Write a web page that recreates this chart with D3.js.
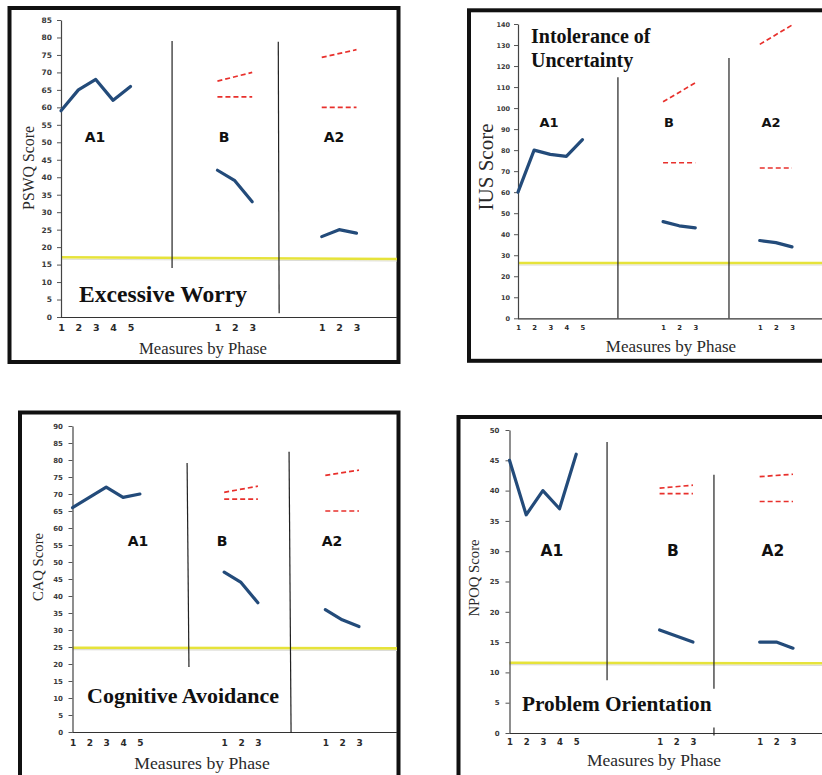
<!DOCTYPE html>
<html>
<head>
<meta charset="utf-8">
<script src="https://cdn.jsdelivr.net/npm/d3@7"></script>
<style>
  body { margin: 0; background: #fff; }
  svg { display: block; }
</style>
</head>
<body>
<svg id="chart" width="822" height="775"></svg>
<script>
// ---- shared measure axis: slots for A1 (5 measures), B (3) and A2 (3) ----
const measureLabels = ["1", "2", "3", "4", "5", "1", "2", "3", "1", "2", "3"];
const measureSlots  = [0, 1, 2, 3, 4, 9, 10, 11, 15, 16, 17];
const a1Slots = [0, 1, 2, 3, 4];
const bSlots  = [9, 10, 11];
const a2Slots = [15, 16, 17];
const phaseNames = ["A1", "B", "A2"];

// ---- PSWQ (Excessive Worry) ----
const pswqTicks   = [0, 5, 10, 15, 20, 25, 30, 35, 40, 45, 50, 55, 60, 65, 70, 75, 80, 85];
const pswqA1      = [59, 65, 68, 62, 66];
const pswqB       = [42, 39, 33];
const pswqA2      = [23, 25, 24];
const pswqUpperB  = [67.5, 70];
const pswqLowerB  = [63, 63];
const pswqUpperA2 = [74.3, 76.5];
const pswqLowerA2 = [60, 60];
const pswqCutoff  = [17.1, 16.6];

// ---- IUS (Intolerance of Uncertainty) ----
const iusTicks   = [0, 10, 20, 30, 40, 50, 60, 70, 80, 90, 100, 110, 120, 130, 140];
const iusA1      = [60, 80, 78, 77, 85];
const iusB       = [46, 44, 43];
const iusA2      = [37, 36, 34];
const iusUpperB  = [103, 112];
const iusLowerB  = [74, 74];
const iusUpperA2 = [130.3, 139.5];
const iusLowerA2 = [71.5, 71.5];
const iusCutoff  = [26.3, 26.3];

// ---- CAQ (Cognitive Avoidance) ----
const caqTicks   = [0, 5, 10, 15, 20, 25, 30, 35, 40, 45, 50, 55, 60, 65, 70, 75, 80, 85, 90];
const caqA1      = [66, 69, 72, 69, 70];
const caqB       = [47, 44, 38];
const caqA2      = [36, 33, 31];
const caqUpperB  = [70.5, 72.3];
const caqLowerB  = [68.5, 68.5];
const caqUpperA2 = [75.5, 77];
const caqLowerA2 = [65, 65];
const caqCutoff  = [24.8, 24.6];

// ---- NPOQ (Problem Orientation) ----
const npoqTicks   = [0, 5, 10, 15, 20, 25, 30, 35, 40, 45, 50];
const npoqA1      = [45, 36, 40, 37, 46];
const npoqB       = [17, 16, 15];
const npoqA2      = [15, 15, 14];
const npoqUpperB  = [40.4, 40.9];
const npoqLowerB  = [39.5, 39.5];
const npoqUpperA2 = [42.3, 42.7];
const npoqLowerA2 = [38.2, 38.2];
const npoqCutoff  = [11.6, 11.5];

const panels = [
  { yLabel: "PSWQ Score", title: ["Excessive Worry"], ticks: pswqTicks,
    a1: pswqA1, b: pswqB, a2: pswqA2, upperB: pswqUpperB, lowerB: pswqLowerB,
    upperA2: pswqUpperA2, lowerA2: pswqLowerA2, cutoff: pswqCutoff },
  { yLabel: "IUS Score", title: ["Intolerance of", "Uncertainty"], ticks: iusTicks,
    a1: iusA1, b: iusB, a2: iusA2, upperB: iusUpperB, lowerB: iusLowerB,
    upperA2: iusUpperA2, lowerA2: iusLowerA2, cutoff: iusCutoff },
  { yLabel: "CAQ Score", title: ["Cognitive Avoidance"], ticks: caqTicks,
    a1: caqA1, b: caqB, a2: caqA2, upperB: caqUpperB, lowerB: caqLowerB,
    upperA2: caqUpperA2, lowerA2: caqLowerA2, cutoff: caqCutoff },
  { yLabel: "NPOQ Score", title: ["Problem Orientation"], ticks: npoqTicks,
    a1: npoqA1, b: npoqB, a2: npoqA2, upperB: npoqUpperB, lowerB: npoqLowerB,
    upperA2: npoqUpperA2, lowerA2: npoqLowerA2, cutoff: npoqCutoff }
];

// ---- layout of each boxed panel (pixels; dividers in slot/value units) ----
const layouts = [
  { frame: [9.5, 8, 389, 354], x0: 61, x17: 356.5, xEnd: 397, yZero: 317, yTop: 20,
    yTickFont: 7.5, yTickGap: 5, xTickFont: 9.5, xTickDy: 7,
    yTitle: [28, 168, 15.8], xTitle: [203, 348, 16.7],
    title: [79, 302, 23.6, 0], phaseX: [95, 224, 334], phaseY: 137, phaseSize: 14,
    dividers: [[6.39, 79, 6.39, 14], [12.5, 78.8, 12.55, 1.1]] },
  { frame: [469, 10.3, 400, 350.5], x0: 518, x17: 792, xEnd: 830, yZero: 318.3, yTop: 24,
    yTickFont: 6.5, yTickGap: 4, xTickFont: 6.8, xTickDy: 7,
    yTitle: [486, 167, 21], xTitle: [671, 346, 17],
    title: [531, 43, 20, 24], phaseX: [549, 669, 771], phaseY: 122, phaseSize: 13,
    dividers: [[6.2, 114.7, 6.2, 0], [13.09, 123.8, 13.09, 0]] },
  { frame: [20, 412.5, 378.5, 400], x0: 72.5, x17: 359, xEnd: 397, yZero: 732, yTop: 426,
    yTickFont: 7, yTickGap: 5.5, xTickFont: 9, xTickDy: 7.5,
    yTitle: [38, 567, 14.7], xTitle: [202, 763, 17.7],
    title: [87, 703, 22, 0], phaseX: [138, 222, 332], phaseY: 541, phaseSize: 14,
    dividers: [[6.8, 79.1, 6.91, 19.1], [12.85, 82.4, 12.97, -0.3]] },
  { frame: [458.5, 417, 400, 400], x0: 509.5, x17: 793, xEnd: 830, yZero: 733, yTop: 430,
    yTickFont: 7, yTickGap: 6, xTickFont: 8.5, xTickDy: 6,
    yTitle: [474, 578, 14.7], xTitle: [654, 760, 17.5],
    title: [522, 711, 21.3, 0], phaseX: [552, 673, 773], phaseY: 551, phaseSize: 15.5,
    dividers: [[5.85, 48, 5.85, 8.7], [12.26, 42.6, 12.26, 7.3], [12.26, 0.9, 12.26, -0.4]] }
];

const svg = d3.select("#chart");
const serif = "'Liberation Serif', 'Times New Roman', serif";
const sans = "'DejaVu Sans', Verdana, sans-serif";
const blue = "#234b7a";
const red = "#e8302c";

panels.forEach((p, i) => {
  const L = layouts[i];
  const g = svg.append("g");

  const x = d3.scaleLinear().domain([0, 17]).range([L.x0, L.x17]);
  const yMax = p.ticks[p.ticks.length - 1];
  const y = d3.scaleLinear().domain([0, yMax]).range([L.yZero, L.yTop]);

  // box
  g.append("rect")
    .attr("x", L.frame[0]).attr("y", L.frame[1])
    .attr("width", L.frame[2]).attr("height", L.frame[3])
    .attr("fill", "#fff").attr("stroke", "#111").attr("stroke-width", 4);

  // clinical cutoff line
  const xEndSlot = x.invert(L.xEnd);
  g.append("line")
    .attr("x1", x(0)).attr("x2", L.xEnd)
    .attr("y1", y(p.cutoff[0]) + 2).attr("y2", y(p.cutoff[1]) + 2)
    .attr("stroke", "#dcdcd6").attr("stroke-width", 1.2);
  g.append("line")
    .attr("x1", x(0)).attr("x2", x(xEndSlot))
    .attr("y1", y(p.cutoff[0])).attr("y2", y(p.cutoff[1]))
    .attr("stroke", "#e6e33a").attr("stroke-width", 2.6);

  // y axis
  const yAxis = g.append("g")
    .attr("transform", `translate(${L.x0},0)`)
    .call(d3.axisLeft(y).tickValues(p.ticks).tickSize(4).tickSizeOuter(0).tickPadding(L.yTickGap));
  yAxis.select(".domain").attr("stroke", "#444").attr("stroke-width", 1.2);
  yAxis.selectAll(".tick line").attr("stroke", "#555");
  yAxis.selectAll(".tick text")
    .attr("font-family", sans).attr("font-size", L.yTickFont).attr("font-weight", "bold")
    .attr("fill", "#3a3a3a");

  // x axis
  const xAxis = g.append("g")
    .attr("transform", `translate(0,${L.yZero})`)
    .call(d3.axisBottom(x).tickValues(measureSlots)
      .tickFormat((d, k) => measureLabels[k]).tickSize(0).tickPadding(L.xTickDy));
  xAxis.select(".domain")
    .attr("d", `M${L.x0},0.5H${L.xEnd}`)
    .attr("stroke", "#333").attr("stroke-width", 1.2);
  xAxis.selectAll(".tick text")
    .attr("font-family", sans).attr("font-size", L.xTickFont).attr("font-weight", "bold")
    .attr("fill", "#2a2a2a");

  // phase dividers
  L.dividers.forEach(d => {
    g.append("line")
      .attr("x1", x(d[0])).attr("y1", y(d[1]))
      .attr("x2", x(d[2])).attr("y2", y(d[3]))
      .attr("stroke", "#222").attr("stroke-width", 1.2);
  });

  // score series
  const line = d3.line().x(d => x(d[0])).y(d => y(d[1]));
  [[a1Slots, p.a1], [bSlots, p.b], [a2Slots, p.a2]].forEach(([slots, vals]) => {
    g.append("path")
      .datum(slots.map((s, k) => [s, vals[k]]))
      .attr("d", line)
      .attr("fill", "none").attr("stroke", blue).attr("stroke-width", 3.2)
      .attr("stroke-linejoin", "round").attr("stroke-linecap", "round");
  });

  // dashed reference lines within B and A2
  [[bSlots, p.upperB], [bSlots, p.lowerB], [a2Slots, p.upperA2], [a2Slots, p.lowerA2]]
    .forEach(([slots, vals]) => {
      g.append("line")
        .attr("x1", x(slots[0])).attr("y1", y(vals[0]))
        .attr("x2", x(slots[slots.length - 1])).attr("y2", y(vals[1]))
        .attr("stroke", red).attr("stroke-width", 1.7)
        .attr("stroke-dasharray", "5,3");
    });

  // phase names
  phaseNames.forEach((name, k) => {
    g.append("text")
      .attr("x", L.phaseX[k]).attr("y", L.phaseY)
      .attr("text-anchor", "middle").attr("dominant-baseline", "central")
      .attr("font-family", sans).attr("font-weight", "bold").attr("font-size", L.phaseSize)
      .attr("fill", "#111").text(name);
  });

  // panel title
  p.title.forEach((t, k) => {
    g.append("text")
      .attr("x", L.title[0]).attr("y", L.title[1] + k * L.title[3])
      .attr("font-family", serif).attr("font-weight", "bold").attr("font-size", L.title[2])
      .attr("fill", "#111").text(t);
  });

  // axis titles
  g.append("text")
    .attr("transform", `translate(${L.yTitle[0]},${L.yTitle[1]}) rotate(-90)`)
    .attr("text-anchor", "middle").attr("dominant-baseline", "central")
    .attr("font-family", serif).attr("font-size", L.yTitle[2])
    .attr("fill", "#2a2a2a").text(p.yLabel);
  g.append("text")
    .attr("x", L.xTitle[0]).attr("y", L.xTitle[1])
    .attr("text-anchor", "middle").attr("dominant-baseline", "central")
    .attr("font-family", serif).attr("font-size", L.xTitle[2])
    .attr("fill", "#2a2a2a").text("Measures by Phase");
});
</script>
</body>
</html>
